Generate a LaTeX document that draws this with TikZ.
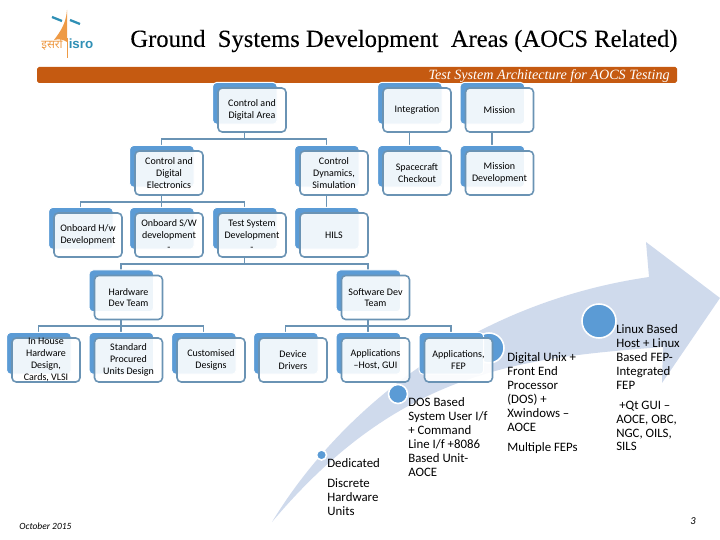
\documentclass[tikz,border=0pt]{standalone}
\usepackage{fontspec}
\setmainfont{Carlito}
\newfontfamily\titlefont[FakeBold=0.2]{Liberation Serif}
\newfontfamily\subtitlefont{Liberation Serif}
\newfontfamily\devfont[Script=Devanagari]{Noto Sans}
\newfontfamily\logofont{Liberation Sans}
\usetikzlibrary{shadows,backgrounds}
\definecolor{unitblue}{HTML}{5B9BD5}
\definecolor{linkblue}{HTML}{6A93B4}
\definecolor{barorange}{HTML}{C55A11}
\definecolor{swooshblue}{HTML}{CFDAEC}
\definecolor{logoblue}{HTML}{2F8FB5}
\definecolor{logoorange}{HTML}{EE9A45}
\tikzset{
  unit/.style={draw=linkblue, line width=0.9pt, rounded corners=2.4pt, fill=white, fill opacity=0.9, text opacity=1,
    minimum width=1.36cm, minimum height=0.88cm, inner sep=0pt, align=center,
    font=\fontsize{5.7}{6.7}\selectfont,
    general shadow={fill=unitblue, draw=white, line width=0.6pt, fill opacity=1, shadow xshift=-0.15cm, shadow yshift=0.14cm, shadow scale=0.95}},
  link/.style={draw=linkblue, line width=1.1pt},
  stage/.style={anchor=north west, inner sep=0pt, align=left, font=\fontsize{7.3}{7.95}\selectfont},
  dot/.style={circle, fill=unitblue, draw=white, line width=0.9pt, inner sep=0pt},
}
\begin{document}
\begin{tikzpicture}[x=0.02cm,y=-0.02cm]
\useasboundingbox (0,0) rectangle (720,540);
\node[anchor=west, inner sep=0pt, font=\titlefont\fontsize{14}{16}\selectfont] (title) at (130,41) {Ground\ \ Systems Development\ \ Areas (AOCS Related)};
\fill[barorange, rounded corners=1pt] (37,67) rectangle (677,83);
\node[anchor=east, inner sep=0pt, text=white, font=\subtitlefont\itshape\fontsize{8.05}{9}\selectfont] (subtitle) at (670,76) {Test System Architecture for AOCS Testing};

\fill[logoorange] (67,10) .. controls (66,24) and (60,32) .. (54,40) .. controls (58,39) and (63,39) .. (67,42) -- cycle;
\draw[logoorange, line width=0.5pt] (67,38)--(67,58);
\draw[logoblue, line width=1.3pt] (52,17)--(62,21) (70,20)--(80,24);
\node[inner sep=0pt, text=logoorange, font=\devfont\bfseries\fontsize{6.6}{7}\selectfont] (hindi) at (52,44) {इसरो};
\node[inner sep=0pt, text=logoblue, font=\logofont\bfseries\fontsize{7.6}{8}\selectfont] (isro) at (81,44) {isro};

\node[unit] (cad) at (252,110) {Control and\\Digital Area};
\node[unit] (integ) at (417,110) {Integration};
\node[unit] (miss) at (499.5,110) {Mission};
\node[unit] (cde) at (169,173) {Control and\\Digital\\Electronics};
\node[unit] (cds) at (334,173) {Control\\Dynamics,\\Simulation};
\node[unit] (scc) at (417,173) {Spacecraft\\Checkout};
\node[unit] (mdev) at (499.5,173) {Mission\\Development};
\node[unit] (obhw) at (88,235) {Onboard H/w\\Development};
\node[unit] (obsw) at (169,235) {Onboard S/W\\development\\-};
\node[unit] (tsd) at (252,235) {Test System\\Development\\-};
\node[unit] (hils) at (334,235) {HILS};
\node[unit] (hwt) at (128.5,297.5) {Hardware\\Dev Team};
\node[unit] (swt) at (375.5,297.5) {Software Dev\\Team};
\node[unit] (inh) at (46,360) {In House\\Hardware\\Design,\\Cards, VLSI};
\node[unit] (spu) at (128.5,360) {Standard\\Procured\\Units Design};
\node[unit] (cusd) at (211,360) {Customised\\Designs};
\node[unit] (devd) at (293,360) {Device\\Drivers};
\node[unit] (aph) at (375.5,360) {Applications\\--Host, GUI};
\node[unit] (apf) at (458.5,360) {Applications,\\FEP};

\begin{scope}[on background layer]
\fill[swooshblue] (272,522) .. controls (340,410) and (470,303) .. (649,277) -- (646,242) -- (720,298) -- (662,383) -- (663,347) .. controls (520,358) and (400,370) .. (272,522) -- cycle;
\node[dot, minimum size=0.2cm] (d1) at (321.5,455) {};
\node[dot, minimum size=0.38cm] (d2) at (398,394) {};
\node[dot, minimum size=0.6cm] (d3) at (489,348) {};
\node[dot, minimum size=0.68cm] (d4) at (599,321) {};
\foreach \parent/\child in {cad/cde,cad/cds,integ/scc,miss/mdev,cde/obhw,cde/obsw,cde/tsd,cds/hils,tsd/hwt,tsd/swt,hwt/inh,hwt/spu,hwt/cusd,swt/devd,swt/aph,swt/apf}
  \draw[link] ([xshift=-0.15cm]\parent.south) -- ++(0,6) -| ([xshift=-0.15cm,yshift=0.1cm]\child.north);
\end{scope}

\node[stage] (stagea) at (327,458) {Dedicated\\[3.4pt]Discrete\\Hardware\\Units};
\node[stage] (stageb) at (408,397) {DOS Based\\System User I/f\\+ Command\\Line I/f +8086\\Based Unit-\\AOCE};
\node[stage] (stagec) at (507,352) {Digital Unix +\\Front End\\Processor\\(DOS) +\\Xwindows --\\AOCE\\[3.4pt]Multiple FEPs};
\node[stage] (staged) at (616,324) {Linux Based\\Host + Linux\\Based FEP-\\Integrated\\FEP\\[3.4pt]\ +Qt GUI --\\AOCE, OBC,\\NGC, OILS,\\SILS};

\node[anchor=west, inner sep=0pt, font=\itshape\fontsize{5.4}{7}\selectfont] (date) at (19,526) {October 2015};
\node[inner sep=0pt, font=\itshape\fontsize{6}{7}\selectfont] (pageno) at (693,521) {3};
\end{tikzpicture}
\end{document}
